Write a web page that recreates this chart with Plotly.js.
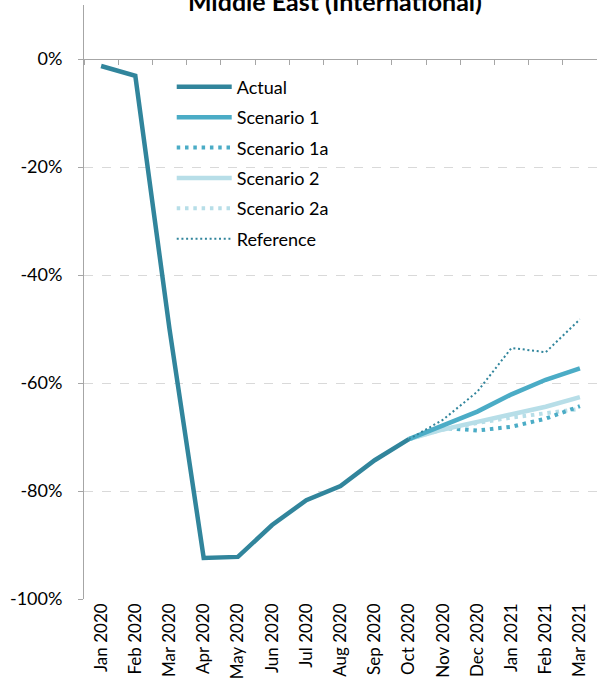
<!DOCTYPE html>
<html>
<head>
<meta charset="utf-8">
<script src="https://cdn.plot.ly/plotly-3.0.1.min.js"></script>
<style>html,body{margin:0;padding:0;background:#fff;}#chart{width:597px;height:694px;}</style>
</head>
<body>
<div id="chart"></div>
<script>
const months = ['Jan 2020','Feb 2020','Mar 2020','Apr 2020','May 2020','Jun 2020','Jul 2020','Aug 2020','Sep 2020','Oct 2020','Nov 2020','Dec 2020','Jan 2021','Feb 2021','Mar 2021'];
const actual     = [-1.3, -3.1, -50.0, -92.4, -92.2, -86.3, -81.7, -79.1, -74.3, -70.4, null, null, null, null, null];
const scenario1  = [null, null, null, null, null, null, null, null, null, -70.4, -67.8, -65.3, -62.1, -59.4, -57.3];
const scenario1a = [null, null, null, null, null, null, null, null, null, -70.4, -68.3, -68.8, -68.1, -66.6, -64.3];
const scenario2  = [null, null, null, null, null, null, null, null, null, -70.4, -68.6, -67.2, -65.9, -64.4, -62.6];
const scenario2a = [null, null, null, null, null, null, null, null, null, -70.4, -68.6, -67.4, -66.4, -65.6, -64.8];
const reference  = [null, null, null, null, null, null, null, null, null, -70.4, -66.8, -61.6, -53.5, -54.3, -48.2];
const yTickVals = [-100, -80, -60, -40, -20, 0];
const yTickText = ['-100%', '-80%', '-60%', '-40%', '-20%', '0%'];

const FONT = 'Lato, "Open Sans", sans-serif';
const dark = '#31859C', mid = '#4BACC6', light = '#B7DEE8';

function tr(name, y, color, width, dash, order, xa) {
  return {x: months, y: y, name: name, type: 'scatter', mode: 'lines', xaxis: xa || 'x',
    line: {color: color, width: width, dash: dash}, connectgaps: false,
    legendgroup: 'g' + order, legendrank: order};
}
const data = [
  tr('Reference', reference, dark, 2, '2px,2.7px', 6, 'x2'),
  tr('Scenario 2a', scenario2a, light, 4, '3.5px,4.8px', 5),
  tr('Scenario 1a', scenario1a, mid, 4, '3.5px,4.8px', 3),
  tr('Scenario 2', scenario2, light, 4.5, 'solid', 4),
  tr('Scenario 1', scenario1, mid, 4.5, 'solid', 2),
  tr('Actual', actual, dark, 4.5, 'solid', 1)
];

const layout = {
  width: 597, height: 694,
  margin: {l: 84, r: 0, t: 5, b: 95},
  paper_bgcolor: '#fff', plot_bgcolor: '#fff',
  font: {family: FONT, size: 18, color: '#000'},
  title: {text: '<b>Middle East (International)</b>', font: {family: FONT, size: 25, color: '#000'},
    xref: 'container', yref: 'container', x: 0.561, xanchor: 'center', y: 0.984, yanchor: 'bottom'},
  showlegend: true,
  legend: {x: 0.171, y: 0.893, xanchor: 'left', yanchor: 'top', bgcolor: 'rgba(0,0,0,0)',
    font: {family: FONT, size: 18, color: '#000'}, itemwidth: 55, tracegroupgap: 4, traceorder: 'grouped'},
  xaxis: {type: 'category', categoryorder: 'array', categoryarray: months, range: [-0.5, 14.5],
    showgrid: false, zeroline: false, showline: false, ticks: '', tickangle: -90,
    tickfont: {family: FONT, size: 17, color: '#000'}, fixedrange: true},
  xaxis2: {type: 'category', categoryorder: 'array', categoryarray: months, range: [-0.5, 14.5],
    overlaying: 'x', anchor: 'free', position: 100/110, side: 'bottom',
    showgrid: false, zeroline: false, showline: true, linecolor: '#a6a6a6', linewidth: 1,
    ticks: 'outside', tickson: 'boundaries', ticklen: 5, tickcolor: '#a6a6a6', showticklabels: false},
  yaxis: {range: [-100, 10], tickvals: yTickVals, ticktext: yTickText,
    showgrid: true, gridcolor: '#d9d9d9', griddash: 'dash', gridwidth: 1,
    zeroline: true, zerolinecolor: '#a6a6a6', zerolinewidth: 1,
    showline: true, linecolor: '#a6a6a6', linewidth: 1,
    ticks: 'outside', ticklen: 5, tickcolor: '#a6a6a6', ticklabelstandoff: 12,
    tickfont: {family: FONT, size: 18, color: '#000'}, fixedrange: true}
};

Plotly.newPlot('chart', data, layout, {displayModeBar: false, staticPlot: true});
</script>
</body>
</html>
